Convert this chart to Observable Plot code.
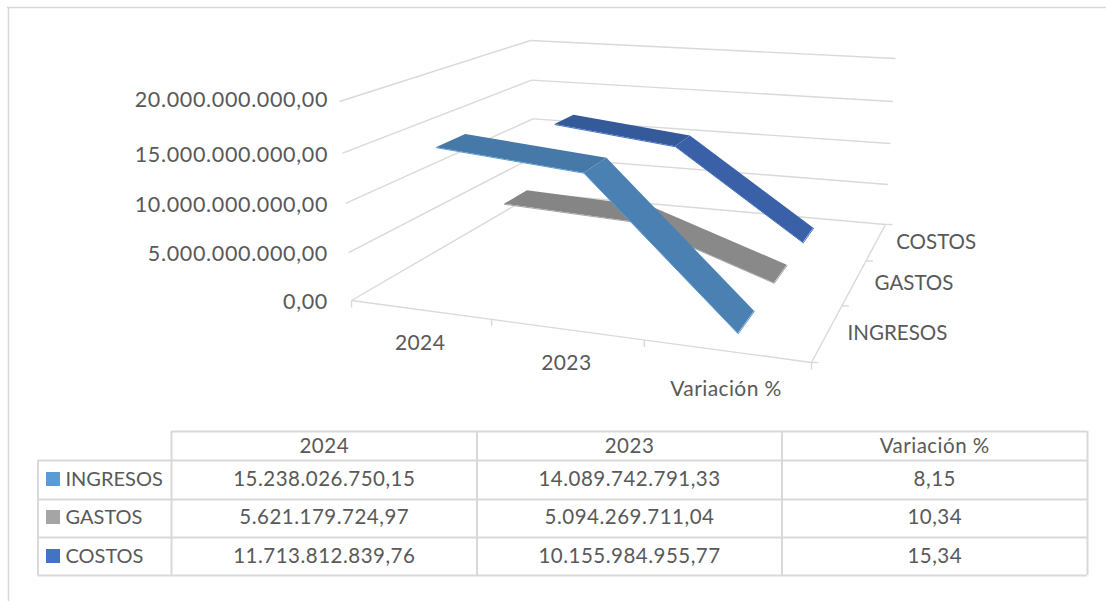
<!DOCTYPE html>
<html>
<head>
<meta charset="utf-8">
<style>html,body{margin:0;padding:0;background:#fff}svg{display:block}
.numA text{letter-spacing:.65px}.numB text{letter-spacing:.5px}.numC text{letter-spacing:.4px}</style>
<script src="https://cdn.jsdelivr.net/npm/d3@7"></script>
<script src="https://cdn.jsdelivr.net/npm/@observablehq/plot@0.6"></script>
</head>
<body>
<div id="chart"></div>
<script>
const categories = ["2024", "2023", "Variación %"];
const seriesNames = ["INGRESOS", "GASTOS", "COSTOS"];
const ingresos = [15238026750.15, 14089742791.33, 8.15];
const gastos = [5621179724.97, 5094269711.04, 10.34];
const costos = [11713812839.76, 10155984955.77, 15.34];
const ingresosText = ["15.238.026.750,15", "14.089.742.791,33", "8,15"];
const gastosText = ["5.621.179.724,97", "5.094.269.711,04", "10,34"];
const costosText = ["11.713.812.839,76", "10.155.984.955,77", "15,34"];
const valueTicks = [0, 5e9, 1e10, 1.5e10, 2e10];
const valueTickLabels = ["0,00", "5.000.000.000,00", "10.000.000.000,00", "15.000.000.000,00", "20.000.000.000,00"];

const font = "Lato, Carlito, sans-serif";
const textColor = "#595959", gridColor = "#d9d9d9";
const legendColors = ["#5b9bd5", "#a5a5a5", "#4472c4"];
const flatColors = ["#4679a8", "#858585", "#355a99"];
const slopeColors = ["#4b80b3", "#898989", "#3a60a8"];
const edgeColors = ["#5b9bd5", "#a5a5a5", "#4472c4"];

// Perspective box of the 3-D chart: [u along categories, v along series, h along values]
const box = {
  f0L: [351, 300], f0R: [811, 362], b0L: [535, 193], b0R: [885, 224],
  f1L: [339, 101], f1R: [826, 142], b1L: [530, 40], b1R: [895, 58],
  au: 0.876, av: 1.39, ah: 0.953
};
const warp = (t, a) => a * t / (1 + t * (a - 1));
const mix = (p, q, t) => [p[0] + (q[0] - p[0]) * t, p[1] + (q[1] - p[1]) * t];
function project(u, v, value) {
  const U = warp(u, box.au), V = warp(v, box.av), H = warp(value / 2e10, box.ah);
  const low = mix(mix(box.f0L, box.f0R, U), mix(box.b0L, box.b0R, U), V);
  const high = mix(mix(box.f1L, box.f1R, U), mix(box.b1L, box.b1R, U), V);
  return mix(low, high, H);
}
const seg = (a, b, extra = {}) => ({x1: a[0], y1: a[1], x2: b[0], y2: b[1], ...extra});

// Gridlines on walls and floor
const wallLines = valueTicks.flatMap(t => [
  seg(project(0, 0, t), project(0, 1, t)),
  seg(project(0, 1, t), project(1, 1, t))
]);
const floorLines = [
  seg(project(0, 0, 0), project(1, 0, 0)),
  seg(project(1, 0, 0), project(1, 1, 0))
];
const tickSteps = [0, 1 / 3, 2 / 3, 1];
const tickLines = [
  ...tickSteps.map(t => { const p = project(t, 0, 0); return seg(p, [p[0], p[1] + 7]); }),
  ...tickSteps.map(t => { const p = project(1, t, 0); return seg(p, [p[0] + 7, p[1]]); })
];

// Ribbons
const allValues = [ingresos, gastos, costos];
const halfDepth = 0.07;
const uOf = i => (i + 0.5) / categories.length;
const vOf = s => (s + 0.5) / seriesNames.length;
const ribbonOf = s => [0, 1].flatMap(i => [i, i + 1].map(k => {
  const front = project(uOf(k), vOf(s) - halfDepth, allValues[s][k]);
  const back = project(uOf(k), vOf(s) + halfDepth, allValues[s][k]);
  return {key: s + "-" + i, fill: i === 0 ? flatColors[s] : slopeColors[s],
    x1: front[0], y1: front[1], x2: back[0], y2: back[1]};
}));
const edgeOf = s => {
  const pts = [0, 1, 2].map(k => project(uOf(k), vOf(s) - halfDepth, allValues[s][k]));
  pts.push(project(uOf(2), vOf(s) + halfDepth, allValues[s][2]));
  return pts.map(p => ({x: p[0], y: p[1]}));
};
const ribbonMarks = [2, 1, 0].flatMap(s => [
  Plot.area(ribbonOf(s), {x1: "x1", y1: "y1", x2: "x2", y2: "y2", z: "key", fill: d => d.fill}),
  Plot.line(edgeOf(s), {x: "x", y: "y", stroke: edgeColors[s], strokeWidth: 1})
]);

// Axis labels
const valueLabels = valueTicks.map((t, i) => {
  const p = project(0, 0, t);
  return {x: 327.5, y: p[1] + 2 - 3 * (i === 4 ? 1 : 0), text: valueTickLabels[i]};
});
const catLabels = categories.map((c, i) => {
  const p = project(uOf(i), 0, 0);
  return {x: p[0], y: p[1] + (i === 2 ? 38 : 34), text: c};
});
const serLabels = seriesNames.map((c, s) => {
  const p = project(1, vOf(s), 0);
  return {x: p[0] + 20, y: p[1] + 1, text: c};
});

// Data table
const colEdges = [171, 476.5, 781.5, 1087];
const rowEdges = [431, 460, 499, 537, 575];
const tableLeft = 37.5;
const rowTexts = [ingresosText, gastosText, costosText];
const rowCenters = [479, 517, 556];
const gridV = [
  {x: tableLeft, y1: rowEdges[1], y2: rowEdges[4]},
  ...colEdges.map(x => ({x, y1: rowEdges[0], y2: rowEdges[4]}))
];
const gridH = rowEdges.map((y, i) => ({y, x1: i === 0 ? colEdges[0] : tableLeft, x2: colEdges[3]}));
const centerX = i => (colEdges[i] + colEdges[i + 1]) / 2;
const headerCells = categories.map((c, i) => ({x: centerX(i), y: 446, text: c}));
const bodyCells = rowTexts.flatMap((r, s) => r.map((t, i) => ({x: centerX(i), y: rowCenters[s], text: t})));
const legendCells = seriesNames.map((n, s) => ({x: 65, y: rowCenters[s], text: n}));
const swatches = seriesNames.map((n, s) => ({x1: 46, x2: 60, y1: rowCenters[s] - 7, y2: rowCenters[s] + 7, fill: legendColors[s]}));

const chart = Plot.plot({
  width: 1106, height: 601, margin: 0,
  style: {background: "#fff", fontFamily: font},
  x: {type: "linear", domain: [0, 1106], range: [0, 1106], axis: null},
  y: {type: "linear", domain: [0, 601], range: [0, 601], axis: null},
  marks: [
    Plot.ruleY([7], {x1: 7, x2: 1106, stroke: "#d9d9d9", strokeWidth: 1.5}),
    Plot.ruleX([8], {y1: 7, y2: 601, stroke: "#d9d9d9", strokeWidth: 1.5}),
    Plot.link(wallLines, {x1: "x1", y1: "y1", x2: "x2", y2: "y2", stroke: gridColor, strokeWidth: 1.4}),
    Plot.link(floorLines, {x1: "x1", y1: "y1", x2: "x2", y2: "y2", stroke: gridColor, strokeWidth: 1.4}),
    Plot.link(tickLines, {x1: "x1", y1: "y1", x2: "x2", y2: "y2", stroke: gridColor, strokeWidth: 1.4}),
    ...ribbonMarks,
    Plot.text(valueLabels, {x: "x", y: "y", text: "text", textAnchor: "end", fontSize: 21.5, fill: textColor, className: "numA"}),
    Plot.text(catLabels, {x: "x", y: "y", text: "text", fontSize: 21, fill: textColor, className: "numC"}),
    Plot.text(serLabels, {x: "x", y: "y", text: "text", textAnchor: "start", fontSize: 20.5, fill: textColor}),
    Plot.ruleX(gridV, {x: "x", y1: "y1", y2: "y2", stroke: gridColor, strokeWidth: 2}),
    Plot.ruleY(gridH, {y: "y", x1: "x1", x2: "x2", stroke: gridColor, strokeWidth: 2}),
    Plot.rect(swatches, {x1: "x1", x2: "x2", y1: "y1", y2: "y2", fill: "fill"}),
    Plot.text(legendCells, {x: "x", y: "y", text: "text", textAnchor: "start", fontSize: 20, fill: textColor}),
    Plot.text(headerCells, {x: "x", y: "y", text: "text", fontSize: 20.5, fill: textColor, className: "numB"}),
    Plot.text(bodyCells, {x: "x", y: "y", text: "text", fontSize: 20.5, fill: textColor, className: "numB"})
  ]
});
document.getElementById("chart").appendChild(chart);
</script>
</body>
</html>
